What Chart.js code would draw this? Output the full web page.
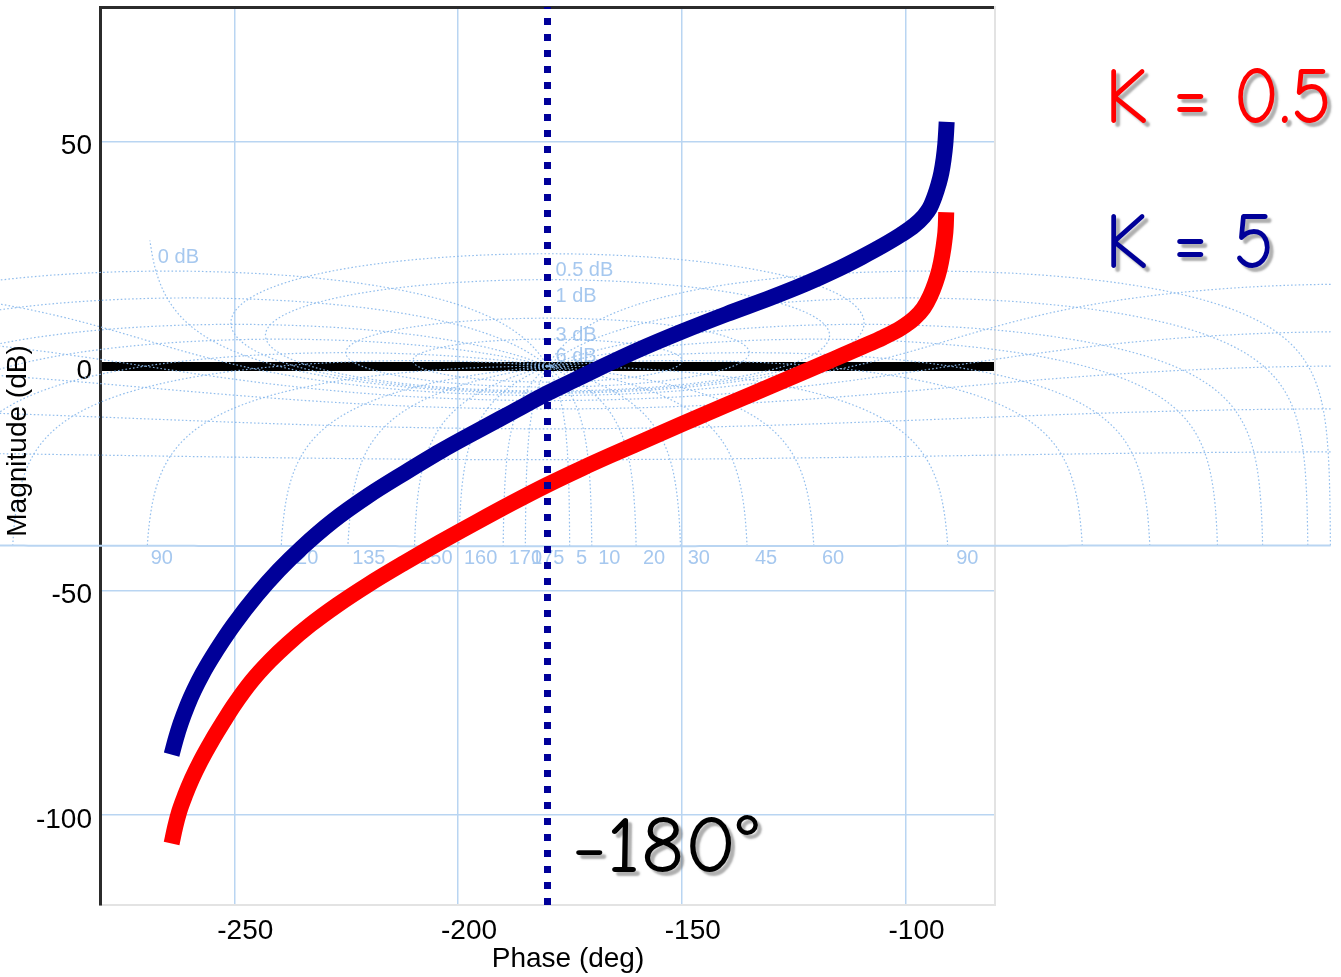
<!DOCTYPE html>
<html>
<head>
<meta charset="utf-8">
<script src="https://cdn.jsdelivr.net/npm/chart.js@4.4.1/dist/chart.umd.min.js"></script>
<style>
  html, body { margin: 0; padding: 0; background: #fff; overflow: hidden; }
  #wrap { position: relative; width: 1341px; height: 977px; }
</style>
</head>
<body>
<div id="wrap"><canvas id="nichols" width="1341" height="977"></canvas></div>
<script>
// Open-loop response for K = 5: phase (deg) and magnitude (dB)
const phaseK5 = [-264.0, -263.0, -262.0, -260.5, -259.0, -257.0, -255.0, -252.5, -250.0, -245.0,
  -240.0, -235.0, -228.0, -220.0, -212.0, -204.0, -196.0, -188.0, -180.0, -174.0,
  -168.0, -160.0, -150.0, -140.0, -130.0, -122.0, -116.0, -110.0, -105.0, -101.0,
  -98.0, -96.0, -94.6, -93.5, -92.6, -92.0, -91.5, -91.1, -90.9, -90.8];
const magK5 = [-86.5, -82.8, -79.6, -75.6, -72.2, -68.3, -64.9, -61.0, -57.4, -51.0,
  -45.4, -40.5, -34.5, -28.8, -23.8, -19.0, -14.6, -10.3, -6.0, -3.1,
  -0.2, 3.5, 7.7, 11.6, 15.3, 18.5, 21.2, 24.2, 26.9, 29.3,
  31.4, 33.3, 35.2, 37.8, 40.6, 43.0, 46.0, 49.5, 52.5, 54.4];

// Open-loop response for K = 0.5
const phaseK05 = [-264.0, -263.2, -262.3, -261.0, -259.5, -257.5, -255.0, -252.5, -250.0, -246.0,
  -242.0, -238.0, -233.0, -227.0, -220.0, -212.0, -204.0, -196.0, -188.0, -180.0,
  -172.0, -166.0, -158.0, -150.0, -140.0, -130.0, -122.0, -116.0, -110.0, -105.0,
  -101.0, -98.0, -96.0, -94.5, -93.3, -92.4, -91.8, -91.3, -91.0, -90.9];
const magK05 = [-106.3, -102.6, -99.2, -95.6, -92.0, -87.9, -83.4, -79.3, -75.4, -70.0,
  -65.6, -61.8, -57.6, -53.2, -48.6, -43.8, -39.2, -34.8, -30.5, -26.4,
  -22.6, -19.9, -16.4, -12.9, -8.6, -4.4, -1.0, 1.6, 4.2, 6.4,
  8.5, 10.7, 12.9, 15.6, 18.6, 21.6, 24.6, 28.0, 31.2, 34.3];

// Axes
const phaseRange = [-280, -80];
const magRange = [-120, 80];
const phaseTicks = [-250, -200, -150, -100];
const magTicks = [-100, -50, 0, 50];
const criticalPhase = -180;

// Nichols grid: closed-loop gain contours (dB) and closed-loop phase contours (deg)
const gridGainsDb = [6, 3, 1, 0.5, 0, -1, -3, -6, -12, -20, -40];
const gridGainLabels = ['6 dB', '3 dB', '1 dB', '0.5 dB', '0 dB'];
const gridPhasesDeg = [-5, -10, -20, -30, -45, -60, -90, -120, -135, -150, -160, -170, -175];
const gridPhaseLabelText = ['90', '120', '135', '150', '160', '170', '175', '5', '10', '20', '30', '45', '60', '90'];
const gridPhaseLabelAt = [-270, -240, -225, -210, -200, -190, -185, -175, -170, -160, -150, -135, -120, -90];
const gridMaxDb = 28;
const gridSpan = [-355, -5];

const seriesLabels = ['K = 0.5', 'K = 5'];

const NAVY = '#000099';
const RED = '#ff0000';
const GRID_BLUE = '#b9d5f2';
const CONTOUR_BLUE = 'rgba(140,186,236,0.95)';
const LABEL_BLUE = '#a6c8ef';
const SANS = '"Liberation Sans", Arial, Helvetica, sans-serif';
const HAND = '"Comic Sans MS", "Comic Neue", "Noto Sans", sans-serif';

const rad = d => d * Math.PI / 180;
const toDb = v => 20 * Math.log10(v);
function olPhase(re, im) {
  let p = Math.atan2(im, re) * 180 / Math.PI;
  if (p > 0) p -= 360;
  return p;
}
// keep line data unsorted in x so the whole contour is drawn outside the plot box too
function unsorted(points) {
  let asc = true;
  for (let i = 1; i < points.length; i++) if (points[i].x < points[i - 1].x) { asc = false; break; }
  return asc ? points.slice().reverse() : points;
}

// Constant closed-loop gain contour in the open-loop (phase, dB) plane
function gainContour(db) {
  const M = Math.pow(10, db / 20);
  const pts = [];
  if (Math.abs(M - 1) < 1e-9) {
    const lim = Math.acos(0.5 / Math.pow(10, gridMaxDb / 20)) * 180 / Math.PI;
    for (let t = 180 + lim; t >= 180 - lim; t -= 0.5) {
      const th = -t;
      const r = -0.5 / Math.cos(rad(th));
      pts.push({ x: th, y: toDb(r) });
    }
  } else if (M > 1) {
    const c = -M * M / (M * M - 1), r = M / (M * M - 1);
    for (let k = 0; k <= 720; k++) {
      const t = 2 * Math.PI * k / 720;
      const re = c + r * Math.cos(t), im = r * Math.sin(t);
      pts.push({ x: olPhase(re, im), y: toDb(Math.hypot(re, im)) });
    }
  } else {
    const M2 = M * M;
    for (let th = gridSpan[1]; th >= gridSpan[0]; th -= 1) {
      const cs = Math.cos(rad(th));
      const r = (M2 * cs + Math.sqrt(M2 * M2 * cs * cs + M2 * (1 - M2))) / (1 - M2);
      pts.push({ x: th, y: toDb(r) });
    }
  }
  return unsorted(pts);
}

// Constant closed-loop phase contour, plus its mirror about -180 deg
function phaseContours(phi) {
  const pts = [];
  const cs = Math.cos(rad(phi)), sn = Math.sin(rad(phi));
  const n = 900;
  for (let k = 0; k <= n; k++) {
    const m = Math.pow(10, -2 + 5 * k / n);
    const tr = m * cs, ti = m * sn;
    const dr = 1 - tr, di = -ti;
    const den = dr * dr + di * di;
    const gr = (tr * dr + ti * di) / den, gi = (ti * dr - tr * di) / den;
    pts.push({ x: olPhase(gr, gi), y: toDb(Math.hypot(gr, gi)) });
  }
  const mirror = pts.map(p => ({ x: -360 - p.x, y: p.y }));
  return [unsorted(pts), unsorted(mirror)];
}

const gridDatasets = [];
const gainLabelAnchors = [];
gridGainsDb.forEach(db => {
  const pts = gainContour(db);
  const solid = db === -40;
  gridDatasets.push({
    data: pts, showLine: true, pointRadius: 0, clip: false, order: 10,
    borderColor: solid ? GRID_BLUE : CONTOUR_BLUE,
    borderWidth: solid ? 2 : 1.2,
    borderDash: solid ? [] : [1.6, 2.2]
  });
  const name = (db + ' dB');
  if (gridGainLabels.includes(name)) {
    let top = pts[0];
    pts.forEach(p => { if (p.y > top.y) top = p; });
    if (db === 0) top = pts.reduce((a, p) => (p.x < a.x ? p : a), pts[0]);
    if (db > 0) top = { x: criticalPhase, y: top.y };
    gainLabelAnchors.push({ text: name, x: top.x, y: top.y });
  }
});
gridPhasesDeg.forEach(phi => {
  phaseContours(phi).forEach(pts => {
    gridDatasets.push({
      data: pts, showLine: true, pointRadius: 0, clip: false, order: 10,
      borderColor: CONTOUR_BLUE, borderWidth: 1.2, borderDash: [1.6, 2.2]
    });
  });
});

const toPoints = (xs, ys) => xs.map((x, i) => ({ x, y: ys[i] }));

// Nichols grid labels, drawn under the response curves
const gridLabelsPlugin = {
  id: 'gridLabels',
  beforeDatasetsDraw(chart) {
    const { ctx, scales: { x, y } } = chart;
    ctx.save();
    ctx.fillStyle = LABEL_BLUE;
    ctx.font = '20px ' + SANS;
    ctx.textAlign = 'left';
    ctx.textBaseline = 'middle';
    gainLabelAnchors.forEach(a => {
      ctx.fillText(a.text, x.getPixelForValue(a.x) + 8, y.getPixelForValue(a.y) + 17);
    });
    const yb = y.getPixelForValue(-40) + 13;
    gridPhaseLabelText.forEach((t, i) => {
      ctx.fillText(t, x.getPixelForValue(gridPhaseLabelAt[i]) + 6, yb);
    });
    ctx.restore();
  }
};

// Axis titles and annotations
function shadowText(ctx, text, left, baseline, sx, color) {
  ctx.save();
  ctx.translate(left, baseline);
  ctx.scale(sx, 1);
  ctx.shadowColor = 'rgba(110,110,110,0.55)';
  ctx.shadowOffsetX = 4;
  ctx.shadowOffsetY = 4;
  ctx.shadowBlur = 2;
  ctx.fillStyle = color;
  ctx.fillText(text, 0, 0);
  ctx.restore();
}
const annotationPlugin = {
  id: 'annotations',
  afterDraw(chart) {
    const { ctx } = chart;
    ctx.save();
    ctx.fillStyle = '#000';
    ctx.font = '28px ' + SANS;
    ctx.textAlign = 'center';
    ctx.textBaseline = 'middle';
    ctx.fillText('Phase (deg)', 568, 959);
    ctx.translate(18, 441);
    ctx.rotate(-Math.PI / 2);
    ctx.fillText('Magnitude (dB)', 0, 0);
    ctx.restore();

    ctx.save();
    ctx.font = '81px ' + HAND;
    ctx.textAlign = 'left';
    ctx.textBaseline = 'alphabetic';
    const sx = 227 / ctx.measureText(seriesLabels[0]).width;
    shadowText(ctx, seriesLabels[0], 1105, 123, sx, RED);
    shadowText(ctx, seriesLabels[1], 1105, 268, sx, NAVY);
    const s180 = 186 / ctx.measureText('-180°').width;
    shadowText(ctx, '-180°', 572, 872, s180, '#000');
    ctx.restore();
  }
};

new Chart(document.getElementById('nichols'), {
  type: 'scatter',
  data: {
    datasets: [
      {
        label: 'critical phase',
        data: [{ x: criticalPhase, y: magRange[0] }, { x: criticalPhase, y: magRange[1] }],
        showLine: true, pointRadius: 0, borderColor: NAVY, borderWidth: 7,
        borderDash: [7, 9], order: 0
      },
      {
        label: seriesLabels[1],
        data: toPoints(phaseK5, magK5),
        showLine: true, pointRadius: 0, borderColor: NAVY, borderWidth: 16,
        cubicInterpolationMode: 'monotone', order: 1
      },
      {
        label: seriesLabels[0],
        data: toPoints(phaseK05, magK05),
        showLine: true, pointRadius: 0, borderColor: RED, borderWidth: 16,
        cubicInterpolationMode: 'monotone', order: 2
      },
      ...gridDatasets
    ]
  },
  options: {
    responsive: false,
    animation: false,
    events: [],
    layout: { padding: 0 },
    plugins: { legend: { display: false }, tooltip: { enabled: false } },
    scales: {
      x: {
        type: 'linear', position: 'bottom', min: phaseRange[0], max: phaseRange[1],
        afterBuildTicks: s => { s.ticks = phaseTicks.map(v => ({ value: v })); },
        afterFit: s => { s.height = 72; s.paddingLeft = 0; s.paddingRight = 0; },
        ticks: { font: { family: SANS, size: 28 }, color: '#000', padding: 9, labelOffset: 11, maxRotation: 0 },
        grid: { color: GRID_BLUE, lineWidth: 1.5, drawTicks: false },
        border: { color: '#e3e3e3', width: 2 }
      },
      xTop: {
        type: 'linear', position: 'top', min: phaseRange[0], max: phaseRange[1],
        afterFit: s => { s.height = 7; s.paddingLeft = 0; s.paddingRight = 0; },
        ticks: { display: false },
        grid: { drawOnChartArea: false, drawTicks: false },
        border: { color: '#2b2b2b', width: 3 }
      },
      y: {
        type: 'linear', position: 'left', min: magRange[0], max: magRange[1],
        afterBuildTicks: s => { s.ticks = magTicks.map(v => ({ value: v })); },
        afterFit: s => { s.width = 100; s.paddingTop = 0; s.paddingBottom = 0; },
        ticks: { font: { family: SANS, size: 28 }, color: '#000', padding: 8, labelOffset: 5 },
        grid: {
          drawTicks: false,
          color: c => (c.tick && c.tick.value === 0 ? '#000' : GRID_BLUE),
          lineWidth: c => (c.tick && c.tick.value === 0 ? 9 : 1.5)
        },
        border: { color: '#2b2b2b', width: 3 }
      },
      yRight: {
        type: 'linear', position: 'right', min: magRange[0], max: magRange[1],
        afterFit: s => { s.width = 346; s.paddingTop = 0; s.paddingBottom = 0; },
        ticks: { display: false },
        grid: { drawOnChartArea: false, drawTicks: false },
        border: { color: '#e3e3e3', width: 2 }
      }
    }
  },
  plugins: [gridLabelsPlugin, annotationPlugin]
});
</script>
</body>
</html>
